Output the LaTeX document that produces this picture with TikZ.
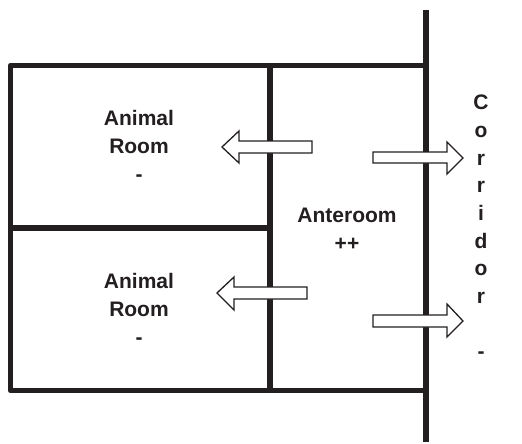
\documentclass[tikz,border=0pt]{standalone}
\usepackage{fontspec}
\setmainfont{Liberation Sans}
\definecolor{wallblack}{HTML}{231F20}
\tikzset{
  wall/.style={line width=5.6pt,draw=wallblack},
  flow/.style={line width=1.3pt,draw=wallblack,fill=white,line join=miter},
  label/.style={font=\bfseries\fontsize{21}{27.7}\selectfont,text=wallblack,align=center,inner sep=0pt},
}
\begin{document}
\begin{tikzpicture}[x=1pt,y=-1pt]
\useasboundingbox (0,0) rectangle (522,444);
% Walls
\draw[wall,line join=round] (426,65.5) -- (10.5,65.5) -- (10.5,390.5) -- (426,390.5);
\draw[wall] (270,65.5) -- (270,390.5);
\draw[wall] (10.5,228) -- (270,228);
\draw[wall] (426,10) -- (426,442);

% Air flow into the animal rooms
\draw[flow] (312,141) -- (239,141) -- (239,131) -- (222,147) -- (239,163) -- (239,153) -- (312,153) -- cycle;
\draw[flow] (307,287) -- (234,287) -- (234,277) -- (217,293) -- (234,310) -- (234,299) -- (307,299) -- cycle;

% Air flow into the corridor
\draw[flow] (373,152) -- (447,152) -- (447,142) -- (463,158) -- (447,174) -- (447,163) -- (373,163) -- cycle;
\draw[flow] (373,315) -- (447,315) -- (447,304) -- (463,321) -- (447,337) -- (447,327) -- (373,327) -- cycle;

% Labels
\node[label] (roomA) at (139,146) {Animal\\Room\\-};
\node[label] (roomB) at (139,309) {Animal\\Room\\-};
\node[label] (anteroom) at (347,229) {Anteroom\\++};
\node[label] (corridor) at (481,227) {C\\o\\r\\r\\i\\d\\o\\r\\ \\-};
\end{tikzpicture}
\end{document}
